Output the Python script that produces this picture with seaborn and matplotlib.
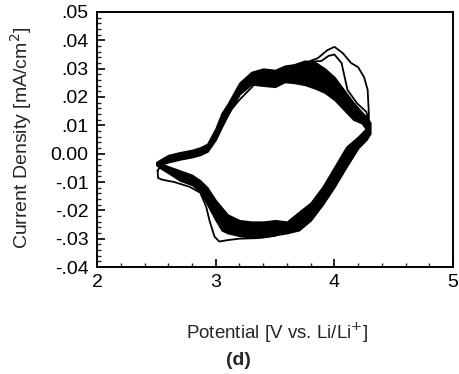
import numpy as np
import pandas as pd
import seaborn as sns
import matplotlib
matplotlib.use("Agg")
import matplotlib.pyplot as plt
from matplotlib.ticker import MultipleLocator, FixedLocator, FixedFormatter

# ---- data ----
# later cycles: band of overlapping curves (anodic sweep)
E_ox = [2.50, 2.53, 2.60, 2.70, 2.80, 2.87, 2.93, 3.00, 3.05, 3.10, 3.20, 3.30, 3.40,
        3.50, 3.58, 3.66, 3.75, 3.84, 3.92, 4.00, 4.08, 4.16, 4.23, 4.28, 4.30]
I_ox_hi = [-0.003, -0.0022, -0.0005, 0.0005, 0.0013, 0.0022, 0.0035, 0.009, 0.0143, 0.0175,
           0.025, 0.0288, 0.030, 0.0295, 0.031, 0.0315, 0.0328, 0.0322, 0.030, 0.027,
           0.0225, 0.018, 0.0147, 0.0125, 0.011]
I_ox_lo = [-0.004, -0.0038, -0.003, -0.002, -0.0012, -0.0004, 0.0008, 0.005, 0.0094, 0.0135,
           0.021, 0.0245, 0.024, 0.0236, 0.0253, 0.025, 0.0243, 0.023, 0.0215, 0.019,
           0.0155, 0.012, 0.0108, 0.008, 0.007]

# later cycles: band (cathodic sweep)
E_red = [2.50, 2.53, 2.60, 2.70, 2.80, 2.87, 2.93, 3.00, 3.05, 3.10, 3.20, 3.30, 3.40,
         3.50, 3.60, 3.70, 3.80, 3.90, 4.00, 4.10, 4.20, 4.27, 4.30]
I_red_hi = [-0.003, -0.0033, -0.0045, -0.006, -0.0075, -0.0095, -0.012, -0.0165, -0.019,
            -0.0215, -0.0235, -0.024, -0.024, -0.0235, -0.024, -0.0206, -0.0173, -0.0117,
            -0.0047, 0.0024, 0.006, 0.009, 0.011]
I_red_lo = [-0.004, -0.005, -0.0068, -0.0095, -0.011, -0.0135, -0.018, -0.0235, -0.027,
            -0.028, -0.029, -0.0295, -0.0294, -0.0287, -0.028, -0.027, -0.0235, -0.018,
            -0.0117, -0.0047, 0.002, 0.005, 0.007]

# first cycle (outer curve)
E_c1 = [2.51, 2.55, 2.64, 2.75, 2.85, 2.92, 2.98, 3.03, 3.10, 3.20, 3.34, 3.45, 3.55, 3.65,
        3.75, 3.86, 3.94, 4.00, 4.07, 4.14, 4.20, 4.25, 4.28, 4.29, 4.29,
        4.25, 4.15, 4.05, 3.95, 3.85, 3.78, 3.70, 3.60, 3.50, 3.35, 3.20, 3.10, 3.03,
        2.99, 2.95, 2.92, 2.87, 2.78, 2.65, 2.55, 2.515, 2.51]
I_c1 = [-0.006, -0.0035, -0.0025, -0.001, 0.0, 0.002, 0.005, 0.0095, 0.014, 0.019, 0.025,
        0.027, 0.0285, 0.030, 0.032, 0.0337, 0.0365, 0.0377, 0.0355, 0.032, 0.0305, 0.027,
        0.0225, 0.0143, 0.008,
        0.005, 0.0, -0.008, -0.014, -0.0175, -0.0195, -0.022, -0.0255, -0.029, -0.0298,
        -0.030, -0.0305, -0.031, -0.0293, -0.024, -0.0188, -0.0138, -0.0117, -0.010,
        -0.0092, -0.0086, -0.006]

# second cycle (visible part near the 4 V peak)
E_c2 = [3.80, 3.89, 3.95, 4.00, 4.06, 4.11, 4.19, 4.27, 4.29]
I_c2 = [0.0325, 0.0327, 0.0345, 0.035, 0.032, 0.0225, 0.0178, 0.0147, 0.011]

y_ticks = [0.05, 0.04, 0.03, 0.02, 0.01, 0.00, -0.01, -0.02, -0.03, -0.04]
y_labels = [".05", ".04", ".03", ".02", ".01", "0.00", "-.01", "-.02", "-.03", "-.04"]
x_ticks = [2, 3, 4, 5]

# ---- figure ----
sns.set_style("white")
plt.rcParams["font.family"] = ["Liberation Sans", "DejaVu Sans"]

fig = plt.figure(figsize=(4.6, 3.74), dpi=100)
ax = fig.add_axes([0.211, 0.286, 0.774, 0.682])

ax.fill_between(E_ox, I_ox_lo, I_ox_hi, color="black", lw=1.2, edgecolor="black")
ax.fill_between(E_red, I_red_lo, I_red_hi, color="black", lw=1.2, edgecolor="black")

df1 = pd.DataFrame({"E": E_c1, "I": I_c1})
df2 = pd.DataFrame({"E": E_c2, "I": I_c2})
sns.lineplot(data=df1, x="E", y="I", sort=False, color="black", lw=1.3, ax=ax, estimator=None)
sns.lineplot(data=df2, x="E", y="I", sort=False, color="black", lw=1.3, ax=ax, estimator=None)

ax.set_xlim(2, 5)
ax.set_ylim(-0.04, 0.05)
ax.xaxis.set_major_locator(FixedLocator(x_ticks))
ax.xaxis.set_minor_locator(MultipleLocator(0.2))
ax.yaxis.set_major_locator(FixedLocator(y_ticks))
ax.yaxis.set_major_formatter(FixedFormatter(y_labels))
ax.yaxis.set_minor_locator(MultipleLocator(0.002))

ax.tick_params(axis="both", which="major", direction="in", length=6, width=1.2,
               labelsize=14, colors="black", bottom=True, left=True, top=False, right=False)
ax.tick_params(axis="both", which="minor", direction="in", length=3, width=1.0,
               bottom=True, left=True, top=False, right=False)
ax.tick_params(axis="x", which="major", pad=5)
ax.tick_params(axis="y", which="major", pad=6)

for s in ax.spines.values():
    s.set_color("black")
    s.set_linewidth(1.4)

ax.set_xlabel("")
ax.set_ylabel("")
fig.text(0.045, 0.631, "Current Density [mA/cm$^2$]", ha="center", va="center",
         rotation=90, fontsize=14)
fig.text(0.602, 0.110, "Potential [V vs. Li/Li$^{+}$]", ha="center", va="center", fontsize=13.5)
fig.text(0.518, 0.037, "(d)", ha="center", va="center", fontsize=14, fontweight="bold")

fig.savefig("out.png", dpi=100)
